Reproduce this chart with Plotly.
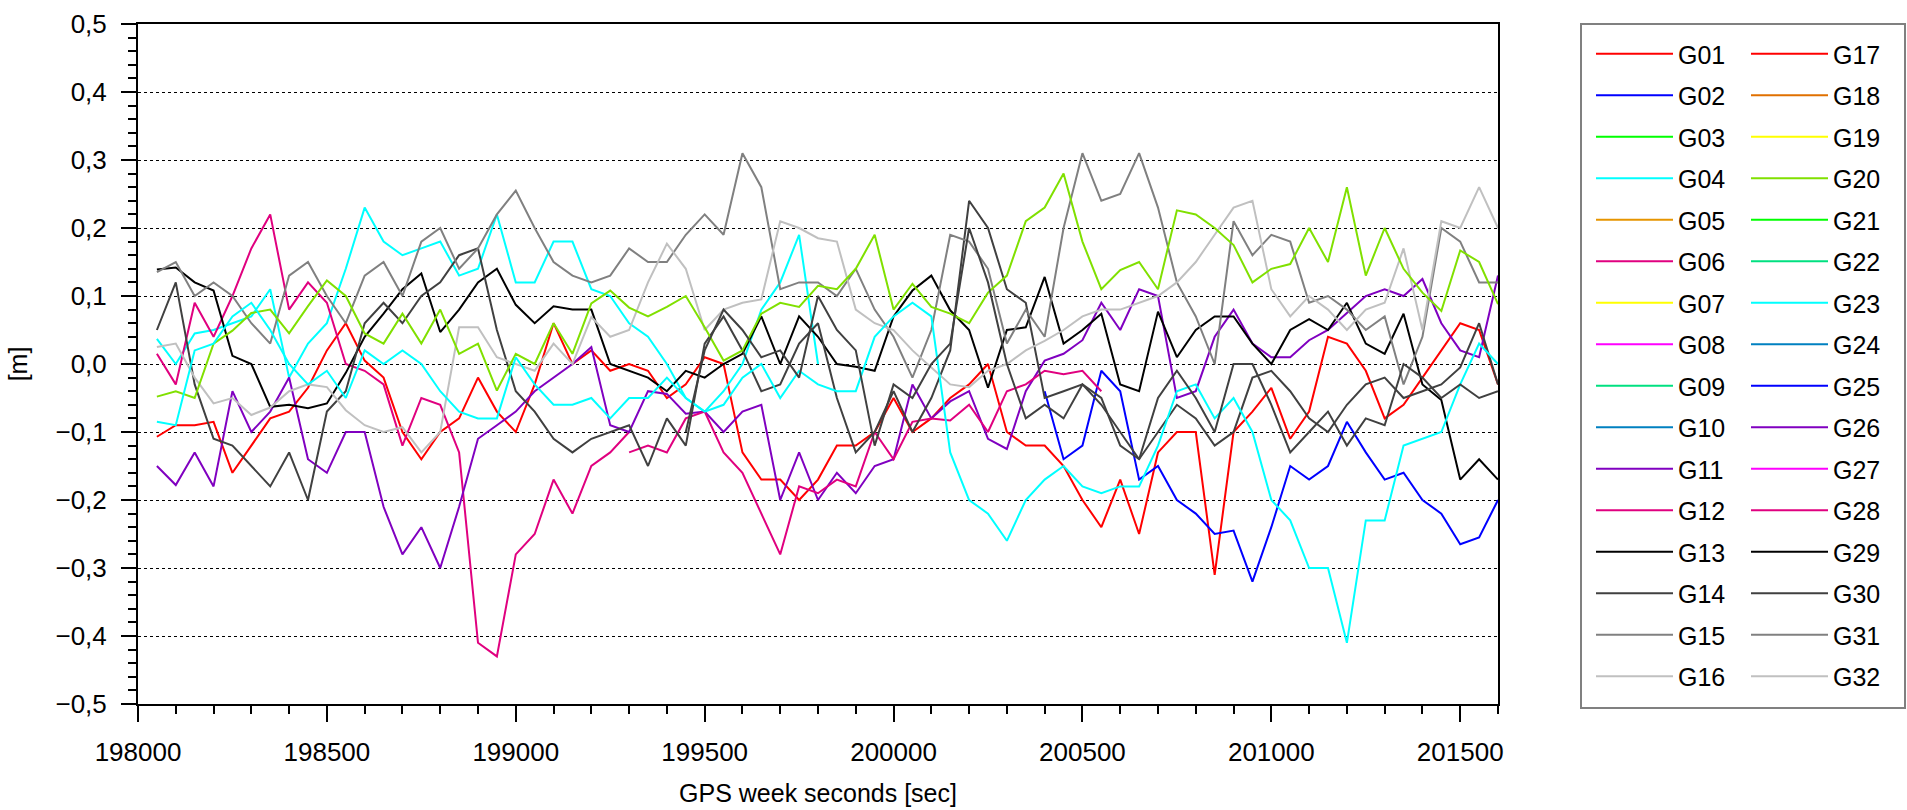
import plotly.graph_objects as go

# ---------------- data ----------------
# sampling epochs (GPS week seconds), 50 s spacing
EPOCHS = list(range(198050, 201601, 50))

SAT_NAMES = ["G%02d" % i for i in range(1, 33)]

SAT_COLORS = [
    "#ff0000", "#0000ff", "#00ff00", "#00ffff", "#e69500", "#e0007f", "#ffff00", "#ff00ff",
    "#00e080", "#0080c0", "#8000c0", "#e0007f", "#000000", "#404040", "#808080", "#c0c0c0",
    "#ff0000", "#e07000", "#ffff00", "#80e000", "#00ff00", "#00e080", "#00ffff", "#0080c0",
    "#0000ff", "#8000c0", "#ff00ff", "#e0007f", "#000000", "#404040", "#808080", "#c0c0c0",
]

N = None

G01 = [-0.107, -0.09, -0.09, -0.085, -0.16, -0.12, -0.08, -0.07, -0.035, 0.02,
       0.06, 0.005, -0.02, -0.10, -0.14, -0.10, -0.08, -0.02, -0.07, -0.10,
       -0.03, 0.06, 0.0, 0.02, -0.01, 0.0, -0.01, -0.05, -0.03, 0.01,
       0.0, -0.13, -0.17, -0.17, -0.20, -0.17, -0.12, -0.12, -0.10, -0.05,
       -0.10, -0.08, -0.05, -0.03, 0.0, -0.10, -0.12, -0.12, -0.15, -0.20,
       -0.24, -0.17, -0.25, -0.13, -0.10, -0.10, -0.31, -0.10, -0.07, -0.035,
       -0.11, -0.07, 0.04, 0.03, -0.01, -0.08, -0.06, -0.02, 0.02, 0.06,
       0.05, -0.03]

G02 = [N] * 47 + [
       -0.04, -0.14, -0.12, -0.01, -0.04, -0.17, -0.15, -0.20, -0.22, -0.25,
       -0.245, -0.32, -0.24, -0.15, -0.17, -0.15, -0.085, -0.13, -0.17, -0.16,
       -0.20, -0.22, -0.265, -0.255, -0.20]

G04 = [0.037, 0.0, 0.045, 0.05, 0.06, 0.07, 0.11, -0.02, 0.03, 0.06,
       0.14, 0.23, 0.18, 0.16, 0.17, 0.18, 0.13, 0.14, 0.22, 0.12,
       0.12, 0.18, 0.18, 0.11, 0.10, 0.06, 0.04, 0.0, -0.05, -0.07,
       -0.04, 0.0, 0.08, 0.12, 0.19, 0.0] + [N] * 36

G06 = [0.015, -0.03, 0.09, 0.04, 0.10, 0.17, 0.22, 0.08, 0.12, 0.09,
       0.0, -0.01, -0.03, -0.12, -0.05, -0.06, -0.13, -0.41, -0.43, -0.28,
       -0.25, -0.17, -0.22, -0.15, -0.13, -0.10] + [N] * 46

G11 = [-0.15, -0.178, -0.13, -0.18, -0.04, -0.10, -0.07, -0.02, -0.14, -0.16,
       -0.10, -0.10, -0.21, -0.28, -0.24, -0.30, -0.21, -0.11, -0.09, -0.07,
       -0.04, -0.02, 0.0, 0.025, -0.09, -0.10, -0.04, -0.044, -0.073, -0.07,
       -0.10, -0.07, -0.06, -0.20, -0.13, -0.20, -0.16, -0.19, -0.15, -0.14,
       -0.03, -0.08, -0.055, -0.04, -0.11, -0.125, -0.04, 0.005, 0.015, 0.035,
       0.09, 0.05, 0.11, 0.10, -0.05, -0.04, 0.04, 0.08, 0.03, 0.01,
       0.01, 0.035, 0.05, 0.075, 0.10, 0.11, 0.10, 0.125, 0.06, 0.02,
       0.01, 0.13]

G12 = [N] * 25 + [
       -0.13, -0.12, -0.13, -0.08, -0.07, -0.13, -0.16, -0.22, -0.28, -0.18,
       -0.19, -0.17, -0.18, -0.10, -0.14, -0.085, -0.08, -0.083, -0.06, -0.10,
       -0.04, -0.03, -0.01, -0.015, -0.01, -0.04] + [N] * 21

G13 = [0.139, 0.142, 0.12, 0.108, 0.012, 0.0, -0.063, -0.06, -0.065, -0.058,
       -0.013, 0.04, 0.074, 0.11, 0.133, 0.047, 0.08, 0.12, 0.14, 0.087,
       0.06, 0.085, 0.08, 0.08, 0.0, -0.01, -0.02, -0.04, -0.01, -0.02,
       0.0, 0.015, 0.07, 0.0, 0.07, 0.04, 0.0, -0.004, -0.01, 0.07,
       0.108, 0.13, 0.079, 0.05, -0.035, 0.05, 0.054, 0.128, 0.03, 0.05,
       0.074, -0.03, -0.04, 0.077, 0.01, 0.05, 0.07, 0.07, 0.03, 0.0,
       0.05, 0.066, 0.05, 0.09, 0.03, 0.015, 0.074, -0.03, -0.053, -0.17,
       -0.14, -0.17]

G14 = [0.05, 0.12, -0.03, -0.11, -0.12, -0.15, -0.18, -0.13, -0.20, -0.07,
       -0.04, 0.06, 0.09, 0.06, 0.10, 0.12, 0.16, 0.17, 0.05, -0.04,
       -0.07, -0.11, -0.13, -0.11, -0.10, -0.09, -0.15, -0.08, -0.12, 0.03,
       0.07, 0.02, -0.04, -0.03, 0.03, 0.06, -0.05, -0.13, -0.10, -0.04,
       -0.10, -0.05, 0.02, 0.24, 0.20, 0.11, 0.09, -0.05, -0.04, -0.03,
       -0.05, -0.12, -0.14, -0.10, -0.06, -0.08, -0.12, -0.10, -0.02, -0.01,
       -0.04, -0.08, -0.10, -0.06, -0.03, -0.02, -0.05, -0.04, -0.03, -0.005,
       0.06, -0.03]

G15 = [0.135, 0.15, 0.10, 0.12, 0.10, 0.06, 0.03, 0.13, 0.15, 0.10,
       0.06, 0.13, 0.15, 0.10, 0.18, 0.20, 0.14, 0.17, 0.22, 0.255,
       0.20, 0.15, 0.13, 0.12, 0.13, 0.17, 0.15, 0.15, 0.19, 0.22,
       0.19, 0.31, 0.26, 0.11, 0.12, 0.12, 0.10, 0.14, 0.08, 0.04,
       -0.02, 0.05, 0.19, 0.18, 0.14, 0.03, 0.08, 0.04, 0.20, 0.31,
       0.24, 0.25, 0.31, 0.23, 0.12, 0.07, 0.0, 0.21, 0.16, 0.19,
       0.18, 0.09, 0.10, 0.08, 0.05, 0.07, -0.03, 0.04, 0.20, 0.18,
       0.12, 0.12]

G16 = [0.025, 0.03, -0.02, -0.058, -0.05, -0.075, -0.064, -0.04, -0.03, -0.034,
       -0.068, -0.09, -0.10, -0.093, -0.13, -0.10, 0.054, 0.054, 0.01, 0.0,
       -0.01, 0.03, 0.0, 0.069, 0.04, 0.05, 0.12, 0.177, 0.14, 0.05,
       0.08, 0.09, 0.095, 0.21, 0.20, 0.185, 0.18, 0.08, 0.06, 0.05,
       0.02, -0.005, -0.03, -0.034, -0.01, 0.0, 0.02, 0.034, 0.05, 0.07,
       0.08, 0.08, 0.09, 0.10, 0.12, 0.15, 0.19, 0.23, 0.24, 0.11,
       0.07, 0.10, 0.08, 0.05, 0.08, 0.09, 0.17, 0.05, 0.21, 0.20,
       0.26, 0.20]

G20 = [-0.048, -0.04, -0.05, 0.03, 0.049, 0.075, 0.08, 0.045, 0.085, 0.123,
       0.10, 0.045, 0.03, 0.074, 0.03, 0.08, 0.015, 0.03, -0.039, 0.015,
       0.0, 0.06, 0.015, 0.089, 0.108, 0.083, 0.07, 0.084, 0.10, 0.054,
       0.005, 0.02, 0.074, 0.09, 0.084, 0.115, 0.11, 0.14, 0.19, 0.08,
       0.118, 0.084, 0.074, 0.06, 0.105, 0.13, 0.21, 0.23, 0.28, 0.18,
       0.11, 0.138, 0.15, 0.11, 0.226, 0.22, 0.20, 0.175, 0.12, 0.14,
       0.147, 0.20, 0.15, 0.26, 0.13, 0.20, 0.14, 0.105, 0.078, 0.167,
       0.15, 0.088]

G23 = [-0.085, -0.09, 0.02, 0.03, 0.07, 0.09, 0.05, 0.0, -0.03, -0.01,
       -0.05, 0.02, 0.0, 0.02, 0.0, -0.04, -0.07, -0.08, -0.08, 0.01,
       -0.03, -0.06, -0.06, -0.05, -0.08, -0.05, -0.05, -0.02, -0.05, -0.07,
       -0.06, -0.02, 0.0, -0.05, -0.01, -0.03, -0.04, -0.04, 0.04, 0.07,
       0.09, 0.07, -0.13, -0.20, -0.22, -0.26, -0.20, -0.17, -0.15, -0.18,
       -0.19, -0.18, -0.18, -0.12, -0.04, -0.03, -0.08, -0.05, -0.10, -0.20,
       -0.23, -0.30, -0.30, -0.41, -0.23, -0.23, -0.12, -0.11, -0.10, -0.03,
       0.03, 0.0]

G30 = [N] * 28 + [
       -0.10, 0.02, 0.08, 0.05, 0.01, 0.02, -0.02, 0.10, 0.05, 0.02,
       -0.12, -0.03, -0.05, 0.0, 0.03, 0.20, 0.12, 0.0, -0.08, -0.06,
       -0.08, -0.03, -0.06, -0.10, -0.14, -0.05, -0.01, -0.05, -0.10, 0.0,
       0.0, -0.06, -0.13, -0.10, -0.07, -0.12, -0.08, -0.09, 0.0, -0.02,
       -0.05, -0.03, -0.05, -0.04]

SERIES = {"G01": G01, "G02": G02, "G04": G04, "G06": G06, "G11": G11, "G12": G12,
          "G13": G13, "G14": G14, "G15": G15, "G16": G16, "G20": G20, "G23": G23,
          "G30": G30}

X_TICKS = [198000, 198500, 199000, 199500, 200000, 200500, 201000, 201500]

# ---------------- figure ----------------
W, H = 1907, 810
L, R, T, B = 138, 409, 24, 106
PW, PH = W - L - R, H - T - B
FONT = "Liberation Sans, Arial, Helvetica, sans-serif"


def px_x(p):
    return (p - L) / PW


def px_y(p):
    return (H - B - p) / PH


fig = go.Figure()
for i, name in enumerate(SAT_NAMES):
    ys = SERIES.get(name)
    if ys is None:
        # satellite without data: keep a legend entry, no drawn points
        xs, ys = EPOCHS[:1], [None]
    else:
        xs = EPOCHS
    fig.add_trace(go.Scatter(
        x=xs, y=ys, mode="lines", name=name,
        line=dict(color=SAT_COLORS[i], width=2),
        legend="legend" if i < 16 else "legend2",
        legendgroup=name, connectgaps=False, hoverinfo="skip"))

axis_common = dict(showline=True, linewidth=2, linecolor="black", mirror=True,
                   ticks="outside", tickwidth=2, tickcolor="black",
                   zeroline=False, tickfont=dict(size=26, color="black", family=FONT))

fig.update_xaxes(range=[198000, 201600], tickvals=X_TICKS, tickformat="d",
                 ticklen=16, showgrid=False, ticklabelstandoff=8,
                 minor=dict(dtick=100, tick0=198000, ticks="outside", ticklen=8,
                            tickwidth=2, tickcolor="black", showgrid=False),
                 title=dict(text="GPS week seconds [sec]", standoff=18,
                            font=dict(size=25, color="black", family=FONT)),
                 **axis_common)
fig.update_yaxes(range=[-0.5, 0.5], dtick=0.1, tick0=0, tickformat=".1f",
                 ticklen=15, showgrid=True, gridcolor="black", gridwidth=1,
                 griddash="dot", ticklabelstandoff=9,
                 minor=dict(dtick=0.02, tick0=0, ticks="outside", ticklen=8,
                            tickwidth=2, tickcolor="black", showgrid=False),
                 title=dict(text="[m]", standoff=21,
                            font=dict(size=25, color="black", family=FONT)),
                 **axis_common)

legend_common = dict(xref="paper", yref="paper", xanchor="left", yanchor="top",
                     font=dict(size=25, color="black", family=FONT),
                     bgcolor="rgba(0,0,0,0)", borderwidth=0, tracegroupgap=6,
                     itemwidth=77, orientation="v")

fig.update_layout(
    width=W, height=H,
    margin=dict(l=L, r=R, t=T, b=B, autoexpand=False),
    paper_bgcolor="white", plot_bgcolor="white",
    separators=",.",
    font=dict(family=FONT, size=25, color="black"),
    showlegend=True,
    legend=dict(x=px_x(1591), y=px_y(31), **legend_common),
    legend2=dict(x=px_x(1746), y=px_y(31), **legend_common),
    shapes=[dict(type="rect", xref="paper", yref="paper",
                 x0=px_x(1581), x1=px_x(1905), y0=px_y(708), y1=px_y(24),
                 line=dict(color="#808080", width=2), fillcolor="rgba(0,0,0,0)",
                 layer="above")],
)

fig.write_html("out.html", config={"displayModeBar": False},
               post_script="document.body.style.margin='0';document.body.style.overflow='hidden';")
